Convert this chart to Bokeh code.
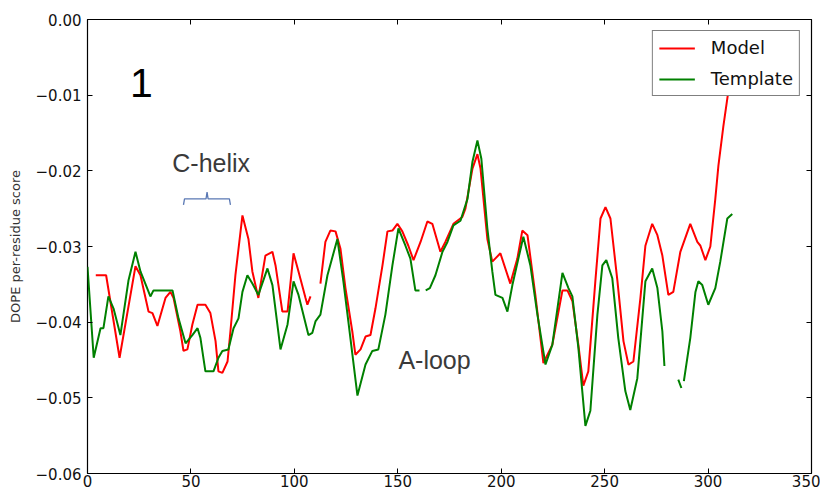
import math
from bokeh.plotting import figure
from bokeh.models import Range1d, FixedTicker, LinearAxis, Label
from bokeh.embed import file_html
from bokeh.resources import INLINE

NaN = float("nan")

# Model (red) per-residue DOPE score
model_x = [4, 9, 15.5, 23.2, 25.6, 29.5, 31.4, 33.8, 37.7, 40.1, 41.6, 44.9, 46.4, 48.3,
           50.7, 53.2, 57, 59.4, 61.9, 63.3, 65.2, 67.7, 69.1, 71.5, 74.9, 77.8, 79.7,
           82.6, 86, 89.4, 90.9, 94.2, 96.7, 99.6, 102, 105.4, 106.3, 107.8, NaN,
           112.6, 115, 117.4, 119.9, 122.3, 124.7, 128, 129.5, 132, 134.4, 136.8, 139.2,
           142.6, 145, 147.4, 149.8, 152.2, 155.1, 157.6, 161, 164.3, 166.7, 170.6, 173,
           176.9, 181.2, 182.7, 186.1, 188.5, 190, 193.3, 195.7, 199.6, 204.4, 207.8,
           210.2, 212.7, 216.5, 220.4, 224.7, 229.6, 232, 234.4, 237.3, 239.7, 242.1,
           245.5, 248, 250.4, 252.8, 256.2, 259.1, 261.5, 263.9, 267.3, 269.7, 273,
           275.5, 277.9, 280.8, 283.2, 286.6, 291.4, 294.8, 296.3, 298.7, 301.1, 303.5,
           305, 307.4, 309.8, 312]
model_y = [-0.0338, -0.0338, -0.0447, -0.0326, -0.0338, -0.0386, -0.0388, -0.0405, -0.0368,
           -0.0360, -0.0368, -0.0412, -0.0438, -0.0436, -0.0403, -0.0377, -0.0377, -0.0388,
           -0.0425, -0.0465, -0.0467, -0.0452, -0.0412, -0.0338, -0.0259, -0.0290, -0.0333,
           -0.0368, -0.0312, -0.0307, -0.0325, -0.0386, -0.0386, -0.0309, -0.0333, -0.0368,
           -0.0377, -0.0366, NaN,
           -0.0349, -0.0294, -0.0279, -0.0280, -0.0303, -0.0355, -0.0412, -0.0443, -0.0436,
           -0.0419, -0.0417, -0.0382, -0.0325, -0.0280, -0.0279, -0.0270, -0.0280, -0.0299,
           -0.0318, -0.0294, -0.0267, -0.0270, -0.0307, -0.0294, -0.0270, -0.0261, -0.0250,
           -0.0197, -0.0178, -0.0197, -0.0290, -0.0320, -0.0309, -0.0349, -0.0316, -0.0279,
           -0.0285, -0.0364, -0.0454, -0.0430, -0.0358, -0.0358, -0.0372, -0.0430, -0.0484,
           -0.0465, -0.0346, -0.0263, -0.0248, -0.0263, -0.0346, -0.0425, -0.0456, -0.0452,
           -0.0368, -0.0299, -0.0270, -0.0285, -0.0312, -0.0364, -0.0360, -0.0307, -0.0270,
           -0.0294, -0.0299, -0.0318, -0.0300, -0.0237, -0.0193, -0.0141, -0.0095, -0.0070]

# Template (green) per-residue DOPE score
template_x = [0, 3, 6.3, 7.7, 10.1, 12.6, 15.9, 19.8, 23.2, 25.6, 30.4, 31.9, 41.1, 44,
              47.4, 50.7, 53.2, 54.6, 57, 60.9, 63.3, 65.2, 68.1, 70.6, 73, 74.9, 77.3,
              79.7, 82.6, 87, 89.4, 93.3, 96.7, 99.6, 102, 106.8, 108.7, 110.2, 112.6, 116,
              120.8, 123.7, 126.1, 130.5, 134.4, 137.7, 140.6, 144, 147.4, 150.3, 153.7,
              156.1, 158.5, 160.5, NaN, 163.5, 165.5, 168.2, 171.6, 174, 176.9, 180.3,
              183.7, 186.1, 188.5, 190.4, 193.3, 195.7, 197.2, 200.6, 203, 205.4, 210.7,
              214.1, 217.5, 221.4, 224.7, 229.6, 232.5, 234.4, 237.3, 240.7, 243.1, 246.5,
              248.9, 250.8, 253.7, 256.6, 260, 262.4, 265.8, 269.7, 273, 275.5, 277.9,
              278.9, NaN, 285.6, 287.1, NaN, 288.3, 291.4, 293.9, 295.3, 297.2, 300.1,
              303.5, 305.9, 309.3, 311.7]
template_y = [-0.0327, -0.0447, -0.0408, -0.0408, -0.0366, -0.0382, -0.0417, -0.0345,
              -0.0307, -0.0333, -0.0366, -0.0358, -0.0358, -0.0395, -0.0428, -0.0417,
              -0.0408, -0.0421, -0.0465, -0.0465, -0.0447, -0.0438, -0.0436, -0.0408,
              -0.0395, -0.0360, -0.0338, -0.0349, -0.0364, -0.0329, -0.0351, -0.0436,
              -0.0403, -0.0346, -0.0364, -0.0417, -0.0414, -0.0399, -0.0390, -0.0338,
              -0.0290, -0.0346, -0.0399, -0.0497, -0.0456, -0.0438, -0.0436, -0.0390,
              -0.0325, -0.0276, -0.0299, -0.0316, -0.0358, -0.0358, NaN, -0.0358, -0.0355,
              -0.0338, -0.0307, -0.0294, -0.0272, -0.0266, -0.0237, -0.0188, -0.0160,
              -0.0184, -0.0276, -0.0333, -0.0364, -0.0368, -0.0386, -0.0351, -0.0287,
              -0.0325, -0.0390, -0.0456, -0.0430, -0.0335, -0.0355, -0.0366, -0.0434,
              -0.0537, -0.0517, -0.0390, -0.0325, -0.0318, -0.0342, -0.0421, -0.0491,
              -0.0516, -0.0474, -0.0346, -0.0329, -0.0355, -0.0412, -0.0458, NaN, -0.0476,
              -0.0487, NaN, -0.0478, -0.0421, -0.0360, -0.0346, -0.0351, -0.0377, -0.0355,
              -0.0320, -0.0263, -0.0257]

x_ticks = [0, 50, 100, 150, 200, 250, 300, 350]
x_tick_labels = ["0", "50", "100", "150", "200", "250", "300", "350"]
y_ticks = [-0.06, -0.05, -0.04, -0.03, -0.02, -0.01, 0.0]
y_tick_labels = ["\u22120.06", "\u22120.05", "\u22120.04", "\u22120.03", "\u22120.02", "\u22120.01", "0.00"]

# C-helix brace annotation
brace_x = [46.4, 46.9, 57.3, 57.8, 58.3, 68.6, 69.1]
brace_y = [-0.0245, -0.0237, -0.0237, -0.0228, -0.0237, -0.0237, -0.0245]

TICK_FONT = "DejaVu Sans"

p = figure(width=820, height=489, output_backend="svg", toolbar_location=None,
           x_range=Range1d(0, 350), y_range=Range1d(-0.06, 0.0),
           min_border_left=87, min_border_right=9, min_border_top=19, min_border_bottom=14)
p.background_fill_color = "white"
p.border_fill_color = "white"
p.outline_line_color = "black"
p.outline_line_width = 1.2
p.xgrid.visible = False
p.ygrid.visible = False

p.line(model_x, model_y, line_color="#ff0000", line_width=2, legend_label="Model")
p.line(template_x, template_y, line_color="#008000", line_width=2, legend_label="Template")

p.line(brace_x, brace_y, line_color="#5a78b4", line_width=1.3)

def style_axis(ax, ticks, labels, show_labels=True):
    ax.ticker = FixedTicker(ticks=ticks)
    ax.major_tick_in = 5
    ax.major_tick_out = 0
    ax.minor_tick_in = 0
    ax.minor_tick_out = 0
    ax.major_tick_line_color = "black"
    ax.axis_line_color = None
    ax.major_label_text_font = TICK_FONT
    if show_labels:
        ax.major_label_overrides = {t: l for t, l in zip(ticks, labels)}
        ax.major_label_text_color = "#111111"
        ax.major_label_text_font_size = "15px"
    else:
        ax.major_label_text_color = None
        ax.major_label_text_font_size = "1px"
        ax.major_label_standoff = 0

style_axis(p.xaxis[0], x_ticks, x_tick_labels)
p.xaxis[0].major_label_standoff = 1
style_axis(p.yaxis[0], y_ticks, y_tick_labels)
p.yaxis[0].major_label_standoff = 6
p.yaxis[0].axis_label = "DOPE per-residue score"
p.yaxis[0].axis_label_text_font = TICK_FONT
p.yaxis[0].axis_label_text_font_size = "13px"
p.yaxis[0].axis_label_text_font_style = "normal"
p.yaxis[0].axis_label_text_color = "#333333"
p.yaxis[0].axis_label_standoff = 10

top_ax = LinearAxis()
style_axis(top_ax, x_ticks, x_tick_labels, show_labels=False)
p.add_layout(top_ax, "above")
right_ax = LinearAxis()
style_axis(right_ax, y_ticks, y_tick_labels, show_labels=False)
p.add_layout(right_ax, "right")

p.add_layout(Label(x=20.5, y=-0.0084, text="1", text_font="Liberation Sans",
                   text_font_size="41px", text_color="black", text_baseline="middle"))
p.add_layout(Label(x=41.0, y=-0.0189, text="C-helix", text_font="Liberation Sans",
                   text_font_size="25px", text_color="#3a3a3a", text_baseline="middle"))
p.add_layout(Label(x=150.3, y=-0.0450, text="A-loop", text_font="Liberation Sans",
                   text_font_size="25px", text_color="#3a3a3a", text_baseline="middle"))

lg = p.legend[0]
lg.location = "top_right"
lg.margin = 11
lg.padding = 6
lg.spacing = 10
lg.glyph_width = 36
lg.glyph_height = 20
lg.label_height = 20
lg.label_standoff = 16
lg.label_text_font = TICK_FONT
lg.label_text_font_size = "18px"
lg.label_text_color = "#111111"
lg.border_line_color = "black"
lg.border_line_width = 1.3
lg.background_fill_color = "white"
lg.background_fill_alpha = 1.0

open("out.html", "w").write(file_html(p, INLINE))
